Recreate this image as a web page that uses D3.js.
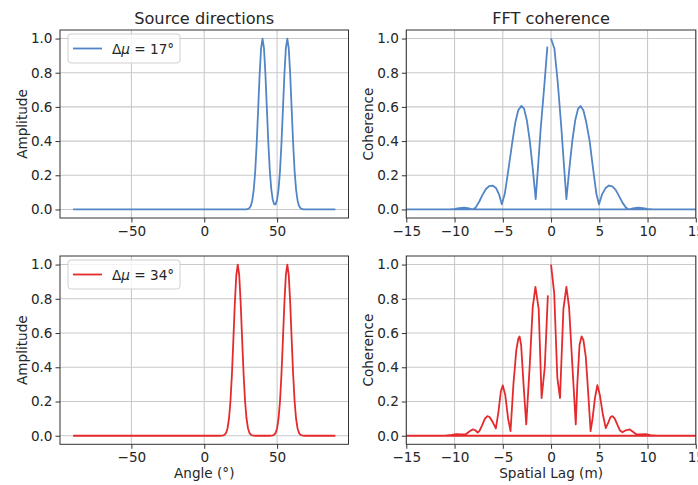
<!DOCTYPE html>
<html>
<head>
<meta charset="utf-8">
<script src="https://cdn.jsdelivr.net/npm/d3@7"></script>
<style>
  body { margin: 0; background: #fff; }
  svg { display: block; }
  text { font-family: "DejaVu Sans", sans-serif; fill: #262626; }
</style>
</head>
<body>
<svg id="chart"></svg>
<script>
// ---- data ----
var angleTop = [-90, 28, 29, 30, 31, 32, 33, 34, 35, 36, 37, 38, 39, 40, 41, 42, 43, 44, 45, 46, 47, 48,
                49, 50, 51, 52, 53, 54, 55, 56, 57, 58, 59, 60, 61, 62, 63, 64, 65, 66, 67, 68, 69, 90];
var ampTop   = [0, 0, 0.001, 0.003, 0.008, 0.022, 0.054, 0.118, 0.226, 0.387, 0.586, 0.788, 0.942, 1.0, 0.942,
                0.788, 0.586, 0.387, 0.226, 0.119, 0.057, 0.030, 0.030, 0.057, 0.119, 0.226, 0.387, 0.586,
                0.788, 0.942, 1.0, 0.942, 0.788, 0.586, 0.387, 0.226, 0.118, 0.054, 0.022, 0.008, 0.003,
                0.001, 0, 0];

var angleBot = [-90, 11, 12, 13, 14, 15, 16, 17, 18, 19, 20, 21, 22, 23, 24, 25, 26, 27, 28, 29, 30, 31, 32,
                33, 34, 35, 45, 46, 47, 48, 49, 50, 51, 52, 53, 54, 55, 56, 57, 58, 59, 60, 61, 62, 63, 64,
                65, 66, 67, 68, 69, 90];
var ampBot   = [0, 0, 0.001, 0.002, 0.006, 0.017, 0.044, 0.101, 0.203, 0.361, 0.563, 0.775, 0.938, 1.0,
                0.938, 0.775, 0.563, 0.361, 0.203, 0.101, 0.044, 0.017, 0.006, 0.002, 0.001, 0, 0, 0.001,
                0.002, 0.006, 0.017, 0.044, 0.101, 0.203, 0.361, 0.563, 0.775, 0.938, 1.0, 0.938, 0.775,
                0.563, 0.361, 0.203, 0.101, 0.044, 0.017, 0.006, 0.002, 0.001, 0, 0];

// FFT lags come out unshifted: positive half first, then the negative half
var lagTopPos = [0, 0.35, 0.7, 1.05, 1.35, 1.59, 1.9, 2.2, 2.5, 2.8, 3.05, 3.35, 3.65, 4.0, 4.35, 4.7, 4.97,
                 5.3, 5.65, 6.0, 6.35, 6.7, 7.05, 7.4, 7.75, 8.08, 8.5, 9.0, 9.5, 10.0, 10.5, 11, 15];
var cohTopPos = [1.0, 0.94, 0.74, 0.49, 0.25, 0.06, 0.24, 0.40, 0.52, 0.59, 0.605, 0.58, 0.51, 0.40, 0.24,
                 0.09, 0.03, 0.09, 0.125, 0.14, 0.135, 0.115, 0.078, 0.04, 0.012, 0, 0.006, 0.01, 0.008,
                 0.004, 0.001, 0, 0];
var lagTopNeg = [-15, -11, -10.5, -10, -9.5, -9.0, -8.5, -8.15, -7.8, -7.45, -7.1, -6.75, -6.4, -6.07, -5.7,
                 -5.4, -5.1, -4.8, -4.4, -4.0, -3.7, -3.4, -3.07, -2.8, -2.5, -2.2, -1.9, -1.59, -1.35,
                 -1.07, -0.72, -0.38];
var cohTopNeg = [0, 0, 0.001, 0.004, 0.008, 0.01, 0.006, 0, 0.012, 0.045, 0.085, 0.12, 0.137, 0.14, 0.125,
                 0.09, 0.031, 0.09, 0.24, 0.40, 0.51, 0.58, 0.606, 0.59, 0.52, 0.40, 0.24, 0.06, 0.25,
                 0.475, 0.71, 0.953];

var lagBotPos = [0, 0.33, 0.65, 0.93, 1.28, 1.59, 1.87, 2.2, 2.56, 2.72, 2.95, 3.16, 3.35, 3.6, 3.85, 4.1,
                 4.3, 4.55, 4.8, 5.05, 5.35, 5.67, 5.95, 6.15, 6.36, 6.6, 6.9, 7.15, 7.4, 7.75, 8.16, 8.45,
                 8.8, 9.3, 9.8, 10.3, 11, 15];
var cohBotPos = [1.0, 0.83, 0.34, 0.22, 0.74, 0.87, 0.75, 0.42, 0.066, 0.30, 0.53, 0.58, 0.56, 0.46, 0.25,
                 0.027, 0.10, 0.22, 0.295, 0.24, 0.13, 0.045, 0.08, 0.108, 0.115, 0.10, 0.06, 0.03, 0.02,
                 0.032, 0.037, 0.025, 0.01, 0.008, 0.01, 0.004, 0, 0];
var lagBotNeg = [-15, -11, -10.3, -9.8, -9.3, -8.8, -8.4, -8.1, -7.85, -7.6, -7.4, -7.15, -6.85, -6.6, -6.35,
                 -6.05, -5.72, -5.45, -5.2, -5.0, -4.75, -4.45, -4.2, -3.9, -3.6, -3.4, -3.26, -3.1, -2.85,
                 -2.57, -2.2, -1.9, -1.62, -1.28, -0.98, -0.65, -0.33];
var cohBotNeg = [0, 0, 0.005, 0.01, 0.008, 0.01, 0.028, 0.037, 0.032, 0.018, 0.03, 0.06, 0.10, 0.115, 0.108,
                 0.08, 0.043, 0.14, 0.26, 0.294, 0.24, 0.10, 0.027, 0.30, 0.50, 0.565, 0.58, 0.53, 0.30,
                 0.066, 0.42, 0.75, 0.87, 0.74, 0.22, 0.40, 0.82];

var angleTicks = [-50, 0, 50];
var lagTicks = [-15, -10, -5, 0, 5, 10, 15];
var yTicks = [0, 0.2, 0.4, 0.6, 0.8, 1.0];
var legendLabels = ["17", "34"];

// ---- layout ----
var W = 698, H = 485;
var blue = "#5285c5", red = "#e52a2d";
var rows = [{top: 30, bottom: 218}, {top: 256, bottom: 444.3}];
var cols = [{left: 60, right: 348.5}, {left: 406.3, right: 695.8}];

var svg = d3.select("#chart").attr("width", W).attr("height", H);

function zip(xs, ys) { return xs.map(function(d, i) { return [d, ys[i]]; }); }

function panel(r, c, opt) {
  var box = {left: cols[c].left, right: cols[c].right, top: rows[r].top, bottom: rows[r].bottom};
  var x = d3.scaleLinear().domain(opt.xDomain).range([box.left, box.right]);
  var y = d3.scaleLinear().domain([-0.05, 1.05]).range([box.bottom, box.top]);
  var g = svg.append("g");
  var id = "clip" + r + c;

  g.append("clipPath").attr("id", id).append("rect")
    .attr("x", box.left).attr("y", box.top)
    .attr("width", box.right - box.left).attr("height", box.bottom - box.top);

  // grid
  g.selectAll(".gx").data(opt.xTicks).enter().append("line")
    .attr("x1", d => x(d)).attr("x2", d => x(d))
    .attr("y1", box.top).attr("y2", box.bottom)
    .attr("stroke", "#c9c9c9").attr("stroke-width", 1.1);
  g.selectAll(".gy").data(yTicks).enter().append("line")
    .attr("y1", d => y(d)).attr("y2", d => y(d))
    .attr("x1", box.left).attr("x2", box.right)
    .attr("stroke", "#c9c9c9").attr("stroke-width", 1.1);

  var line = d3.line().x(d => x(d[0])).y(d => y(d[1]));
  g.append("path")
    .attr("clip-path", "url(#" + id + ")")
    .attr("d", line(opt.data))
    .attr("fill", "none")
    .attr("stroke", opt.color)
    .attr("stroke-width", 1.8)
    .attr("stroke-linejoin", "round");

  // frame
  g.append("rect")
    .attr("x", box.left).attr("y", box.top)
    .attr("width", box.right - box.left).attr("height", box.bottom - box.top)
    .attr("fill", "none").attr("stroke", "#333").attr("stroke-width", 1);

  var xa = g.append("g").attr("transform", "translate(0," + box.bottom + ")")
    .call(d3.axisBottom(x).tickValues(opt.xTicks).tickFormat(d3.format("d"))
      .tickSize(4.5).tickPadding(3.5));
  var ya = g.append("g").attr("transform", "translate(" + box.left + ",0)")
    .call(d3.axisLeft(y).tickValues(yTicks).tickFormat(d3.format(".1f"))
      .tickSize(4.5).tickPadding(3));
  [xa, ya].forEach(function(a) {
    a.select(".domain").remove();
    a.selectAll("line").attr("stroke", "#333");
    a.selectAll("text").attr("font-size", "13.6px").attr("font-family", "DejaVu Sans")
      .attr("fill", "#262626");
  });

  var cx = (box.left + box.right) / 2, cy = (box.top + box.bottom) / 2;
  if (opt.title) {
    g.append("text").attr("x", cx).attr("y", box.top - 6.5)
      .attr("text-anchor", "middle").attr("font-size", "16.2px").text(opt.title);
  }
  if (opt.xlabel) {
    g.append("text").attr("x", cx).attr("y", 478)
      .attr("text-anchor", "middle").attr("font-size", "13.6px").text(opt.xlabel);
  }
  g.append("text")
    .attr("transform", "translate(" + (box.left - 33) + "," + cy + ") rotate(-90)")
    .attr("text-anchor", "middle").attr("font-size", "13.6px").text(opt.ylabel);

  if (opt.legend) {
    var lg = g.append("g").attr("transform", "translate(" + (box.left + 8) + "," + box.top + ")");
    lg.append("rect").attr("x", 0).attr("y", 4).attr("width", 112).attr("height", 29)
      .attr("rx", 3).attr("fill", "#fff").attr("fill-opacity", 0.8)
      .attr("stroke", "#d0d0d0").attr("stroke-width", 1);
    lg.append("line").attr("x1", 5).attr("x2", 34).attr("y1", 18.5).attr("y2", 18.5)
      .attr("stroke", opt.color).attr("stroke-width", 1.8);
    var t = lg.append("text").attr("x", 44).attr("y", 23.5).attr("font-size", "13.6px");
    t.append("tspan").text("Δ");
    t.append("tspan").attr("font-style", "italic").text("μ");
    t.append("tspan").text(" = " + opt.legend + "°");
  }
}

panel(0, 0, {xDomain: [-99, 99], xTicks: angleTicks, data: zip(angleTop, ampTop), color: blue,
  title: "Source directions", ylabel: "Amplitude", legend: legendLabels[0]});
panel(0, 1, {xDomain: [-15, 15], xTicks: lagTicks,
  data: zip(lagTopPos, cohTopPos).concat(zip(lagTopNeg, cohTopNeg)), color: blue,
  title: "FFT coherence", ylabel: "Coherence"});
panel(1, 0, {xDomain: [-99, 99], xTicks: angleTicks, data: zip(angleBot, ampBot), color: red,
  xlabel: "Angle (°)", ylabel: "Amplitude", legend: legendLabels[1]});
panel(1, 1, {xDomain: [-15, 15], xTicks: lagTicks,
  data: zip(lagBotPos, cohBotPos).concat(zip(lagBotNeg, cohBotNeg)), color: red,
  xlabel: "Spatial Lag (m)", ylabel: "Coherence"});
</script>
</body>
</html>
